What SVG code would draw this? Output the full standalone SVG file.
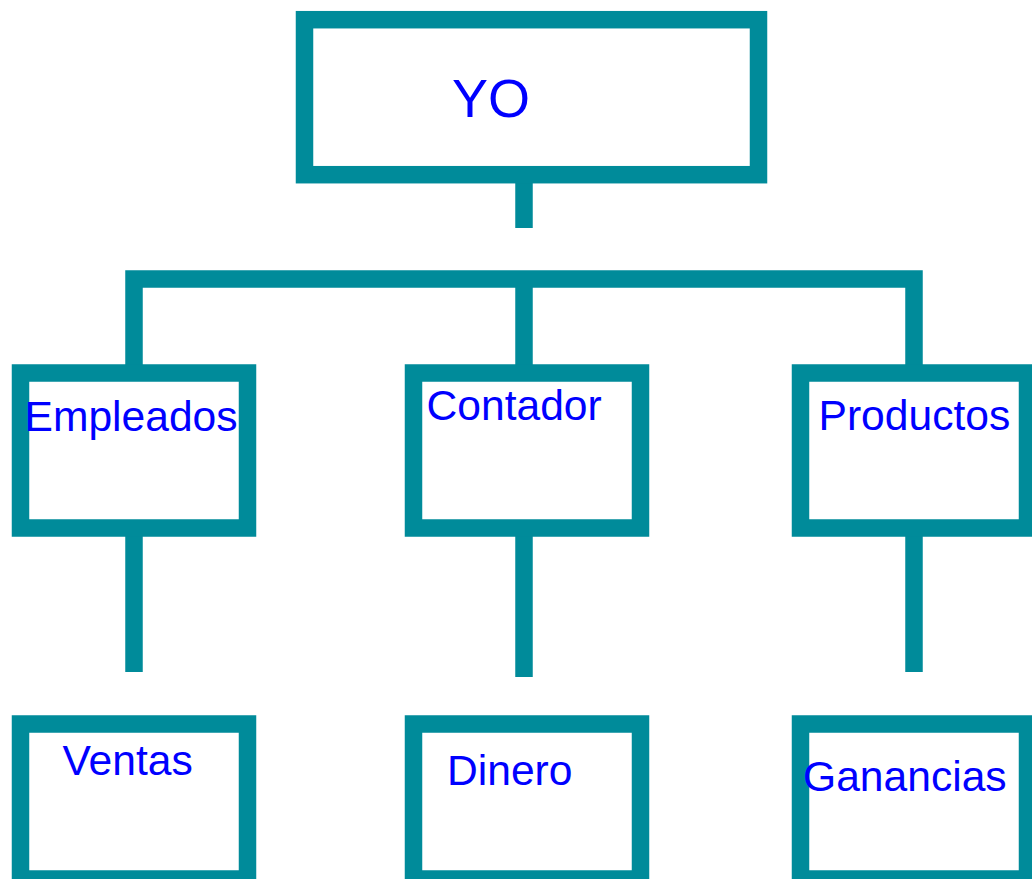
<svg xmlns="http://www.w3.org/2000/svg" width="1032" height="879" viewBox="0 0 1032 879">
<style>
.box{fill:#fff;stroke:#008b9a;stroke-width:17.5}
.ln{fill:none;stroke:#008b9a;stroke-width:17.5;stroke-linecap:butt;stroke-linejoin:miter}
.t{font-family:"Liberation Sans",Arial,sans-serif;font-size:42.6px;fill:#0000ff}
</style>
<rect width="1032" height="879" fill="#fff"/>
<g id="connectors">
<path class="ln" d="M524 183V228"/>
<path class="ln" d="M134 365V279H914V365"/>
<path class="ln" d="M524 279V365"/>
<path class="ln" d="M134 536V672"/>
<path class="ln" d="M524 536V677"/>
<path class="ln" d="M914 536V672"/>
</g>
<g id="yo">
<rect class="box" x="304.5" y="19.7" width="454" height="155"/>
<text class="t" x="452" y="117" style="font-size:54px">YO</text>
</g>
<g id="empleados">
<rect class="box" x="20.5" y="373" width="227" height="155"/>
<text class="t" x="24.5" y="431">Empleados</text>
</g>
<g id="contador">
<rect class="box" x="413.5" y="373" width="227" height="155"/>
<text class="t" x="426.5" y="420">Contador</text>
</g>
<g id="productos">
<rect class="box" x="800.5" y="373" width="227" height="155"/>
<text class="t" x="818.5" y="430">Productos</text>
</g>
<g id="ventas">
<rect class="box" x="20.5" y="724" width="227" height="155"/>
<text class="t" x="62.5" y="775">Ventas</text>
</g>
<g id="dinero">
<rect class="box" x="413.5" y="724" width="227" height="155"/>
<text class="t" x="447" y="785">Dinero</text>
</g>
<g id="ganancias">
<rect class="box" x="800.5" y="724" width="227" height="155"/>
<text class="t" x="803" y="791">Ganancias</text>
</g>
</svg>
